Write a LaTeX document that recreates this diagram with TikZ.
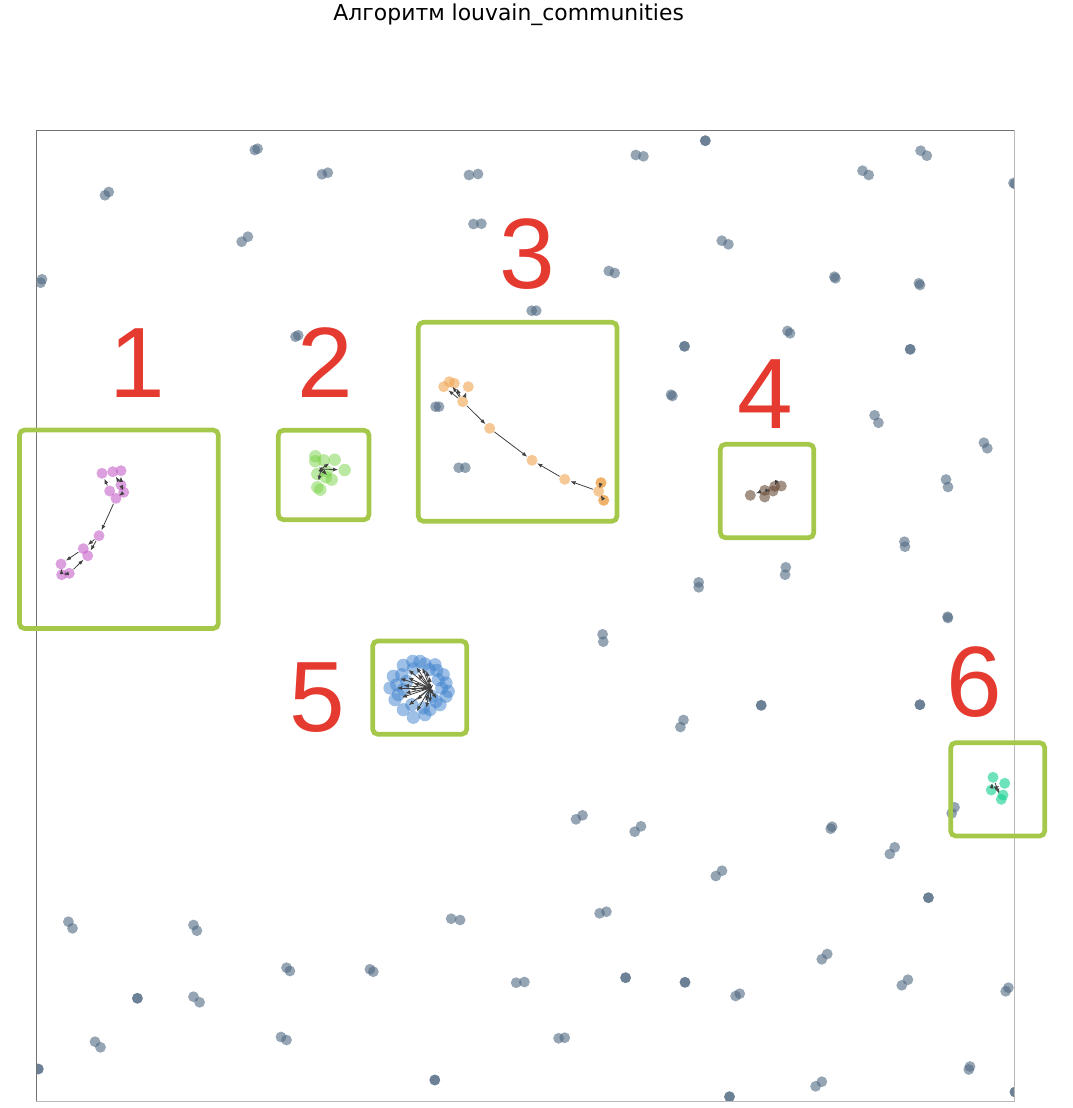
\documentclass[tikz,border=0pt]{standalone}
\usepackage{fontspec}
\setmainfont{DejaVu Sans}
\newfontfamily\numfont{Liberation Sans}
\usetikzlibrary{arrows.meta}
\definecolor{gdotc}{HTML}{506982}
\definecolor{pinkc}{RGB}{197,97,200}
\definecolor{grnc}{RGB}{120,210,70}
\definecolor{orc}{RGB}{238,163,80}
\definecolor{brc}{RGB}{102,73,53}
\definecolor{bluc}{RGB}{63,130,205}
\definecolor{tealc}{RGB}{30,210,150}
\definecolor{boxc}{HTML}{A5C84B}
\definecolor{numc}{HTML}{E53A30}
\begin{document}
\begin{tikzpicture}[x=0.5pt,y=-0.5pt,
  gdot/.style={fill=gdotc,fill opacity=0.6},
  cn/.style={circle,inner sep=0pt,minimum size=5.5pt,draw=none,fill opacity=0.6},
  pk/.style={cn,fill=pinkc},
  gn/.style={cn,fill=grnc,fill opacity=0.5,minimum size=6.2pt},
  on/.style={cn,fill=orc},
  bn/.style={cn,fill=brc},
  un/.style={cn,fill=bluc,fill opacity=0.5,minimum size=6.6pt},
  tn/.style={cn,fill=tealc,fill opacity=0.65},
  arr/.style={draw=black!75,line width=0.4pt,-{Latex[length=2.6pt,width=2pt]}},
  hbox/.style={draw=boxc,line width=2.35pt,rounded corners=2.5pt},
  num/.style={text=numc,font=\numfont\fontsize{50pt}{60pt}\selectfont,anchor=base,inner sep=0pt},
  ttl/.style={font=\fontsize{10.95pt}{13pt}\selectfont,anchor=base,inner sep=0pt}]
\useasboundingbox (0,0) rectangle (1072,1108);
\node[ttl] (title) at (508.7,20.7) {Алгоритм louvain\_communities};
\begin{scope}
\clip (36,130) rectangle (1014,1101);
\foreach \x/\y in {254.8/150,257.6/148.7,322/174.3,327.8/172.7,469/175,478/174,
  105/195.3,108.8/192,473.5/224,481.4/223.7,241.7/241.7,247.9/236.7,40.6/282.7,42/279.3,
  531.7/310.7,536.2/310.7,295.5/336.7,298.2/335.3,435.6/406.7,439/406.7,458.7/467.7,465.3/467.7,
  635.8/155,643.4/156.3,705.3/140.7,705.3/140.7,920.6/150.7,926.8/155.7,862.5/170.7,868.7/175,
  1013.5/183,1015/184,721.8/240.7,728.4/244.3,608.8/271,614.7/273,834.4/276.7,835.4/278.3,
  918.9/283.3,920/285,684.5/346.3,684.5/346.3,787.5/331,790/333.3,910.2/349.3,910.2/349.3,
  671/394.7,672.4/396,874.6/415.3,878.4/422.7,983.9/442.7,987.3/448.3,946/479.5,948/487,
  904.4/541.7,905/546.7,785.8/567.3,785.1/574.7,698.7/582.3,698.7/587.3,602.6/634.3,603.3/641.7,
  947.6/616.7,947.9/618,761.2/705.3,761.2/705.3,919.9/704.7,919.9/704.7,683.5/720,680.4/727,
  576/819.3,582.5/815.3,634.7/831.7,641/826.3,830.7/828.7,832.1/826.7,889.8/854,894.7/847.3,
  954.5/807.3,951.7/813.3,
  715.8/876,722/870.7,928.4/897.7,928.4/897.7,68.4/921.7,72.5/928.3,193.5/925,196.9/930.7,
  451.2/918.7,460.1/920,599.6/913.3,606.4/911.7,821.8/959.3,827.2/954,286.5/967.7,289.9/971,
  369.9/969.3,373.3/971.7,516.2/982.7,524.4/982,625.6/977.7,625.6/977.7,685/982.3,685/982.3,
  735.6/996,739.7/993.7,901.8/985.3,907.9/979.7,1005.7/991.3,1008.4/987.7,137.4/998.3,137.4/998.3,
  193.5/996.7,199.6/1002.3,95/1041.7,100.5/1047.3,281/1037,286.5/1040,558.6/1038.3,564.7/1037.7,
  38.3/1069,38.3/1069,434.8/1080,434.8/1080,729.5/1096.7,729.5/1096.7,815.6/1086.3,821.8/1081.7,
  968.8/1069.5,970/1066.5,1015/1092,1015/1092}
  \fill[gdot] (\x,\y) circle (5.4);
% cluster 1
\node[pk] (p1) at (102,473.3) {};
\node[pk] (p2) at (112.7,471.7) {};
\node[pk] (p3) at (121,470.7) {};
\node[pk] (p4) at (121,485) {};
\node[pk] (p5) at (109.7,491) {};
\node[pk] (p6) at (123.7,492.3) {};
\node[pk] (p7) at (116,498.3) {};
\node[pk] (p8) at (99,535.7) {};
\node[pk] (p9) at (83.3,548.7) {};
\node[pk] (p10) at (87.7,555.7) {};
\node[pk] (p11) at (61,564) {};
\node[pk] (p12) at (61.7,574.7) {};
\node[pk] (p13) at (69.3,573.3) {};
\draw[arr] (p7) -- (p8);
\draw[arr] (p8) -- (p9);
\draw[arr] (p8) -- (p10);
\draw[arr] (p9) -- (p11);
\draw[arr] (p13) -- (p10);
\draw[arr] (p11) -- (p12);
\draw[arr] (p12) -- (p13);
\draw[arr] (p5) -- (p1);
\draw[arr] (p4) -- (p3);
\draw[arr] (p4) -- (p2);
\draw[arr] (p6) -- (p4);
\draw[arr] (p7) -- (p6);
% cluster 2
\coordinate (ghub) at (321,469);
\node[gn] (g1) at (315.3,456.3) {};
\node[gn] (g2) at (315.3,461.3) {};
\node[gn] (g3) at (323.7,460.3) {};
\node[gn] (g4) at (334.7,459.7) {};
\node[gn] (g5) at (344.7,470) {};
\node[gn] (g6) at (317.3,474) {};
\node[gn] (g7) at (326.7,471.3) {};
\node[gn] (g8) at (331.7,479.7) {};
\node[gn] (g9) at (326,477.3) {};
\node[gn] (g10) at (317.3,487.3) {};
\node[gn] (g11) at (320.3,489.7) {};
\foreach \t in {g2,g3,g4,g5,g8,g10} \draw[arr] (ghub) -- (\t);
% cluster 3
\node[on] (o1) at (443.7,386.7) {};
\node[on] (o2) at (449.3,381.7) {};
\node[on] (o3) at (454.3,383.3) {};
\node[on] (o4) at (468.3,386.7) {};
\node[on] (o5) at (462.7,401.7) {};
\node[on] (o6) at (489.7,428.3) {};
\node[on] (o7) at (532,460.3) {};
\node[on] (o8) at (564.7,479.3) {};
\node[on] (o9) at (601,482.7) {};
\node[on] (o9b) at (601,482.7) {};
\node[on] (o10) at (598.7,491.3) {};
\node[on] (o11) at (603.7,500.3) {};
\node[on] (o11b) at (603.7,500.3) {};
\draw[arr] (o5) -- (o6);
\draw[arr] (o6) -- (o7);
\draw[arr] (o8) -- (o7);
\draw[arr] (o10) -- (o8);
\foreach \t in {o1,o2,o3,o4} \draw[arr] (o5) -- (\t);
\draw[arr] (o10) -- (o9);
\draw[arr] (o10) -- (o11);
% cluster 4
\node[bn] (b1) at (750.3,495.3) {};
\node[bn] (b2) at (764.7,490.3) {};
\node[bn] (b3) at (764.7,497) {};
\node[bn] (b4) at (774.7,486.3) {};
\node[bn] (b5) at (781.3,486) {};
\node[bn] (b6) at (773,491) {};
\draw[arr] (b2) -- (b1);
\draw[arr] (b6) -- (b2);
\draw[arr] (b4) -- (b6);
% cluster 5
\coordinate (uhub) at (430,688);
\foreach \x/\y [count=\i] in {403.3/665.3,412.7/661.3,413.3/668.7,425/664,429.3/669.7,436.7/670.3,
  443.3/674.7,446/683,438.3/679.7,441.7/688,446/696.3,436/701.3,431.7/696.3,423.3/708,
  425/714.7,413.3/717.3,403.3/709.7,411.7/704.7,395/699.7,398.3/694.7,390/688,396.7/684.7,
  393.3/676.3,401.7/674.7,406.7/681.3,420/661.3,435/664.7,440/704.7,430/709.7,448.3/691.3,403.3/689.7}
  \node[un] (u\i) at (\x,\y) {};
\foreach \i in {1,2,3,4,5,9,12,13,14,15,16,17,18,19,20,21,22,23,24,25,26,28,29,31}
  \draw[arr] (uhub) -- (u\i);
% cluster 6
\node[tn] (t1) at (993,777.3) {};
\node[tn] (t2) at (1004.7,783.3) {};
\node[tn] (t3) at (991.3,790) {};
\node[tn] (t4) at (1003,795) {};
\node[tn] (t5) at (1001.3,799.3) {};
\draw[arr] (t3) -- (t1);
\draw[arr] (t3) -- (t2);
\draw[arr] (t1) -- (t5);
\end{scope}
% frame
\draw[line width=0.5pt,draw=black!55] (36,1101) -- (36,130) -- (1014,130);
\draw[line width=0.5pt,draw=black!28] (1014,130) -- (1014,1101) -- (36,1101);
% highlight boxes
\draw[hbox] (19.5,430) rectangle (218.3,628.5);
\draw[hbox] (278.3,430.3) rectangle (369,519.7);
\draw[hbox] (418.3,322.3) rectangle (617,521.2);
\draw[hbox] (720.3,444.3) rectangle (813.8,537.7);
\draw[hbox] (372.7,641) rectangle (466.8,734.2);
\draw[hbox] (950.7,742.7) rectangle (1044.7,836);
% numbers
\node[num] (n1) at (137.5,397.5) {1};
\node[num] (n2) at (325.2,397) {2};
\node[num] (n3) at (527,288.5) {3};
\node[num] (n4) at (765.4,428) {4};
\node[num] (n5) at (317,731) {5};
\node[num] (n6) at (974.7,716.8) {6};
\end{tikzpicture}
\end{document}
